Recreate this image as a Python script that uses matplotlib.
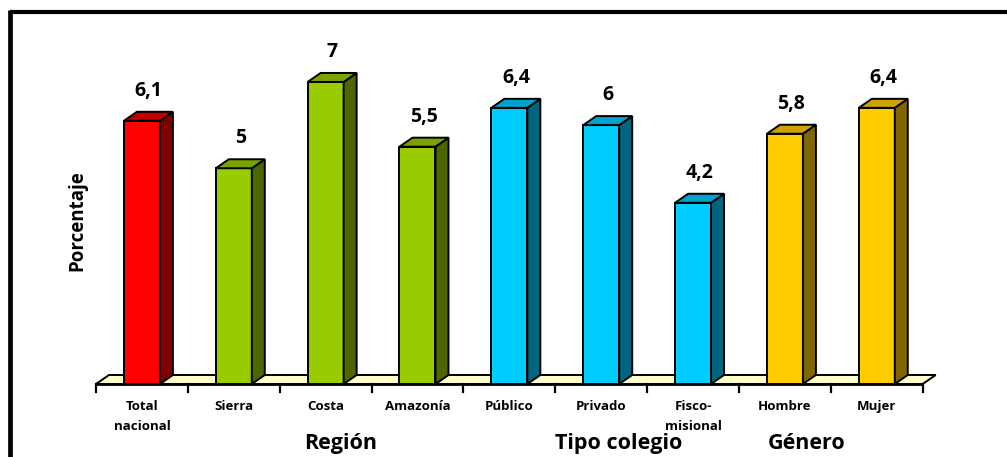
import matplotlib
matplotlib.use("Agg")
import matplotlib.pyplot as plt
from matplotlib.patches import Polygon
from matplotlib.lines import Line2D

# Data
categories = ["Total\nnacional", "Sierra", "Costa", "Amazonía", "Público",
              "Privado", "Fisco-\nmisional", "Hombre", "Mujer"]
values = [6.1, 5.0, 7.0, 5.5, 6.4, 6.0, 4.2, 5.8, 6.4]
value_labels = ["6,1", "5", "7", "5,5", "6,4", "6", "4,2", "5,8", "6,4"]
groups = ["Región", "Tipo colegio", "Género"]

# Colour per bar: (front, side, top)
red = ("#FF0000", "#800000", "#C00000")
green = ("#99CC00", "#4D6600", "#7AA300")
blue = ("#00CCFF", "#006680", "#00A3CC")
gold = ("#FFCC00", "#806600", "#CCA300")
bar_colors = [red, green, green, green, blue, blue, blue, gold, gold]

W, H, DPI = 1007, 457, 100
fig = plt.figure(figsize=(W / DPI, H / DPI), dpi=DPI)
plt.rcParams["font.family"] = ["Open Sans", "DejaVu Sans"]

# axes geometry in pixels
x0_px, x1_px = 96, 922.7
base_px, top_px = 384, 30
n = len(categories)
cat_px = (x1_px - x0_px) / n
unit_px = 43.15
ax = fig.add_axes([x0_px / W, (H - base_px) / H, (x1_px - x0_px) / W, (base_px - top_px) / H])
ax.set_xlim(-0.5, n - 0.5)
ax.set_ylim(0, (base_px - top_px) / unit_px)
ax.axis("off")

# 3-D depth offsets in data units
dx = 13 / cat_px
dy = 9 / unit_px
bw = 36 / cat_px
lw = 1.4

# floor
floor = Polygon([(-0.5, 0), (-0.5 + dx, dy), (n - 0.5 + dx, dy), (n - 0.5, 0)],
                closed=True, facecolor="#FFFFCC", edgecolor="black", lw=lw,
                clip_on=False, zorder=1)
ax.add_patch(floor)
# axis line and ticks
ax.plot([-0.5, n - 0.5], [0, 0], color="black", lw=2, clip_on=False, zorder=2,
        solid_capstyle="butt")
tick_len = 8 / unit_px
for b in range(n + 1):
    xb = b - 0.5
    ax.plot([xb, xb], [0, -tick_len], color="black", lw=1.6, clip_on=False, zorder=2)

# bars
for i, (v, (cf, cs, ct)) in enumerate(zip(values, bar_colors)):
    l, r = i - bw / 2, i + bw / 2
    front = Polygon([(l, 0), (r, 0), (r, v), (l, v)], closed=True,
                    facecolor=cf, edgecolor="black", lw=lw, zorder=3, clip_on=False)
    side = Polygon([(r, 0), (r + dx, dy), (r + dx, v + dy), (r, v)], closed=True,
                   facecolor=cs, edgecolor="black", lw=lw, zorder=3, clip_on=False)
    top = Polygon([(l, v), (l + dx, v + dy), (r + dx, v + dy), (r, v)], closed=True,
                  facecolor=ct, edgecolor="black", lw=lw, zorder=3, clip_on=False,
                  joinstyle="miter")
    for p in (front, side, top):
        ax.add_patch(p)
    ax.annotate(value_labels[i], xy=(i + dx / 2, v), xytext=(0, 25),
                textcoords="offset pixels", ha="center", va="baseline",
                fontsize=14, fontweight="bold", color="black")
    ax.text(i, -16 / unit_px, categories[i], ha="center", va="top",
            fontsize=9.5, fontweight="bold", linespacing=1.75, clip_on=False)

# group titles
for name, gx in zip(groups, [341, 619, 807]):
    fig.text(gx / W, 1 - 449 / H, name, ha="center", va="baseline",
             fontsize=15.5, fontweight="bold")

# y label
fig.text(77 / W, 1 - 221 / H, "Porcentaje", rotation=90, ha="center", va="center",
         fontsize=13.5, fontweight="bold")

# outer frame (top and left edges)
fig.add_artist(Line2D([9.5 / W, 1.0], [1 - 12 / H, 1 - 12 / H], transform=fig.transFigure,
                      color="black", lw=3, solid_capstyle="butt"))
fig.add_artist(Line2D([9.5 / W, 9.5 / W], [0, 1 - 10 / H], transform=fig.transFigure,
                      color="black", lw=3.4, solid_capstyle="butt"))

fig.savefig("out.png", dpi=DPI, facecolor="white")
